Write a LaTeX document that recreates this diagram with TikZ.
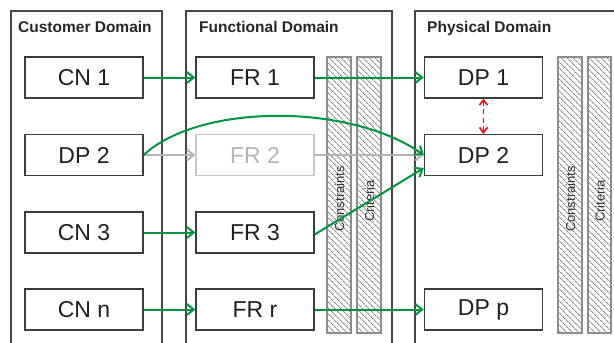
\documentclass[tikz,border=0pt]{standalone}
\usepackage{fontspec}
\setmainfont{Liberation Sans}
\usetikzlibrary{arrows.meta,patterns.meta,calc}
\definecolor{agreen}{RGB}{0,150,64}
\definecolor{aborder}{RGB}{60,60,60}
\definecolor{dborder}{RGB}{70,70,70}
\definecolor{lgray}{RGB}{180,180,180}
\definecolor{lgbox}{RGB}{200,200,200}
\definecolor{hatch}{RGB}{140,140,140}
\definecolor{ared}{RGB}{235,25,35}
\tikzset{
  domainline/.style={draw=dborder,line width=1.2pt},
  domtitle/.style={anchor=base west,font=\fontsize{15.5}{18}\selectfont\bfseries,text=black!85,inner sep=0pt},
  itembox/.style={draw=aborder,line width=1.3pt,minimum width=118pt,minimum height=41pt,inner sep=0pt,font=\fontsize{23}{26}\selectfont,text=black!88},
  greyitem/.style={itembox,draw=lgbox,text=lgray},
  hatchcol/.style={draw=hatch,line width=1.3pt,pattern={Lines[angle=-45,distance=4pt,line width=1pt]},pattern color=hatch},
  collabel/.style={rotate=90,font=\fontsize{13}{15}\selectfont,text=black!80,inner sep=0pt},
  garrow/.style={draw=agreen,line width=2pt,-{Straight Barb[length=7pt,width=11pt,line width=2pt]}},
  grayarrow/.style={draw=lgray,line width=2pt,-{Straight Barb[length=7pt,width=11pt,line width=2pt]}},
  redarrow/.style={draw=ared,line width=1.8pt,dash pattern=on 5pt off 3.5pt,{Straight Barb[length=5pt,width=8pt,line width=1.8pt]}-{Straight Barb[length=5pt,width=8pt,line width=1.8pt]}}
}
\begin{document}
\begin{tikzpicture}[x=1pt,y=-1pt]
\useasboundingbox (0,0) rectangle (614,343);
% domain frames
\draw[domainline] (11,343) -- (11,11) -- (162,11) -- (162,343);
\draw[domainline] (186,343) -- (186,11) -- (392,11) -- (392,343);
\draw[domainline] (415,343) -- (415,11) -- (614,11);
\node[domtitle] (tcust) at (18,32) {Customer Domain};
\node[domtitle] (tfunc) at (199,32) {Functional Domain};
\node[domtitle] (tphys) at (427,32) {Physical Domain};
% hatched columns
\path[hatchcol] (327,57) rectangle (351,333);
\path[hatchcol] (357,57) rectangle (381,333);
\path[hatchcol] (558,57) rectangle (582,333);
\path[hatchcol] (588,57) rectangle (611,333);
\node[collabel] (con1) at (339.5,199) {Constraints};
\node[collabel] (cri1) at (369.5,201) {Criteria};
\node[collabel] (con2) at (570.5,199) {Constraints};
\node[collabel] (cri2) at (600,201) {Criteria};
% boxes
\node[itembox] (cn1) at (84,77.5) {CN 1};
\node[itembox] (dp2c) at (84,155) {DP 2};
\node[itembox] (cn3) at (84,232.5) {CN 3};
\node[itembox] (cnn) at (84,309.5) {CN n};
\node[itembox] (fr1) at (255,77.5) {FR 1};
\node[greyitem] (fr2) at (255,155) {FR 2};
\node[itembox] (fr3) at (255,232.5) {FR 3};
\node[itembox] (frr) at (255,309.5) {FR r};
\node[itembox] (dp1) at (483.5,77.5) {DP 1};
\node[itembox] (dp2p) at (483.5,155) {DP 2};
\node[itembox] (dpp) at (483.5,309.5) {DP p};
% connectors
\draw[grayarrow] (dp2c.east) -- (fr2.west);
\draw[grayarrow] (fr2.east) -- (dp2p.west);
\draw[garrow] (cn1.east) -- (fr1.west);
\draw[garrow] (fr1.east) -- (dp1.west);
\draw[garrow] (dp2c.east) .. controls (200,103) and (350,103) .. (dp2p.west);
\draw[garrow] (cn3.east) -- (fr3.west);
\draw[garrow] ($(fr3.east)+(0,2)$) -- ($(dp2p.west)+(0,13)$);
\draw[garrow] (cnn.east) -- (frr.west);
\draw[garrow] (frr.east) -- (dpp.west);
\draw[redarrow] (dp1.south) -- (dp2p.north);
\end{tikzpicture}
\end{document}
